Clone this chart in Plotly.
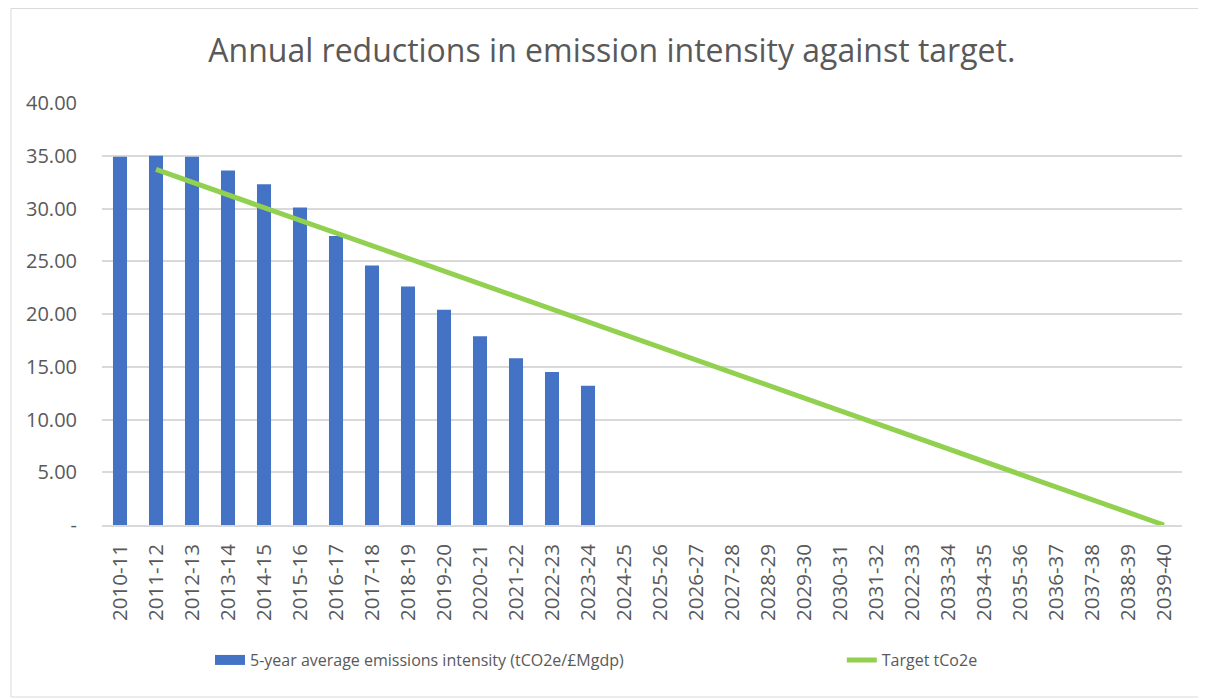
import plotly.graph_objects as go

categories = ["2010-11", "2011-12", "2012-13", "2013-14", "2014-15", "2015-16", "2016-17",
              "2017-18", "2018-19", "2019-20", "2020-21", "2021-22", "2022-23", "2023-24",
              "2024-25", "2025-26", "2026-27", "2027-28", "2028-29", "2029-30", "2030-31",
              "2031-32", "2022-33", "2033-34", "2034-35", "2035-36", "2036-37", "2037-38",
              "2038-39", "2039-40"]

bar_categories = categories[:14]
intensity = [34.9, 35.0, 34.9, 33.6, 32.3, 30.1, 27.4, 24.6, 22.6, 20.4, 17.9, 15.8, 14.5, 13.2]

target_categories = categories[1:]
target = [33.7, 32.5, 31.3, 30.1, 28.9, 27.7, 26.5, 25.3, 24.1, 22.9, 21.7, 20.5, 19.3, 18.1,
          16.9, 15.7, 14.4, 13.2, 12.0, 10.8, 9.6, 8.4, 7.2, 6.0, 4.8, 3.6, 2.4, 1.2, 0.0]

ytick_vals = [0, 5, 10, 15, 20, 25, 30, 35, 40]
ytick_text = ["-", "5.00", "10.00", "15.00", "20.00", "25.00", "30.00", "35.00", "40.00"]

bar_name = "5-year average emissions intensity (tCO2e/£Mgdp)"
line_name = "Target tCo2e"

font_family = "Open Sans, Liberation Sans, sans-serif"
text_color = "#595959"
bar_color = "#4472C4"
line_color = "#92D050"

fig = go.Figure()
fig.add_trace(go.Bar(
    x=bar_categories, y=intensity, name=bar_name, showlegend=False,
    marker=dict(color=bar_color, line=dict(width=0)),
))
# legend entry for bars (wide rectangle like the original)
fig.add_trace(go.Scatter(
    x=[None], y=[None], mode="lines", name=bar_name, legend="legend",
    line=dict(color=bar_color, width=13),
))
fig.add_trace(go.Scatter(
    x=target_categories, y=target, mode="lines", name=line_name, legend="legend2",
    line=dict(color=line_color, width=5),
))

legend_font = dict(family=font_family, size=16, color=text_color)

fig.update_layout(
    width=1198, height=691,
    paper_bgcolor="white", plot_bgcolor="white",
    margin=dict(l=94, r=24, t=95, b=174),
    title=dict(text="Annual reductions in emission intensity against target.",
               x=0.504, xanchor="center", y=0.9378, yanchor="middle",
               font=dict(family=font_family, size=32, color=text_color)),
    bargap=0.61,
    showlegend=True,
    legend=dict(orientation="h", x=0.1, xanchor="left", y=-0.32, yanchor="middle",
                font=legend_font, bgcolor="rgba(0,0,0,0)"),
    legend2=dict(orientation="h", x=0.685, xanchor="left", y=-0.32, yanchor="middle",
                 font=legend_font, bgcolor="rgba(0,0,0,0)"),
    xaxis=dict(type="category", categoryorder="array", categoryarray=categories,
               tickangle=-90, tickfont=dict(family=font_family, size=20.5, color=text_color),
               showline=True, linecolor="#D9D9D9", linewidth=1.5, showgrid=False,
               ticks="", ticklabelstandoff=9, range=[-0.5, len(categories) - 0.5]),
    yaxis=dict(range=[0, 40], tickvals=ytick_vals, ticktext=ytick_text,
               tickfont=dict(family=font_family, size=20, color=text_color),
               showgrid=True, gridcolor="#D9D9D9", gridwidth=1.5, zeroline=False,
               ticks="", ticklabelstandoff=24),
    shapes=[dict(type="rect", xref="paper", yref="paper",
                 x0=-0.0843, x1=1.03, y0=-0.4076, y1=1.224,
                 line=dict(color="#D9D9D9", width=1), layer="below")],
)

fig.write_html("out.html")
